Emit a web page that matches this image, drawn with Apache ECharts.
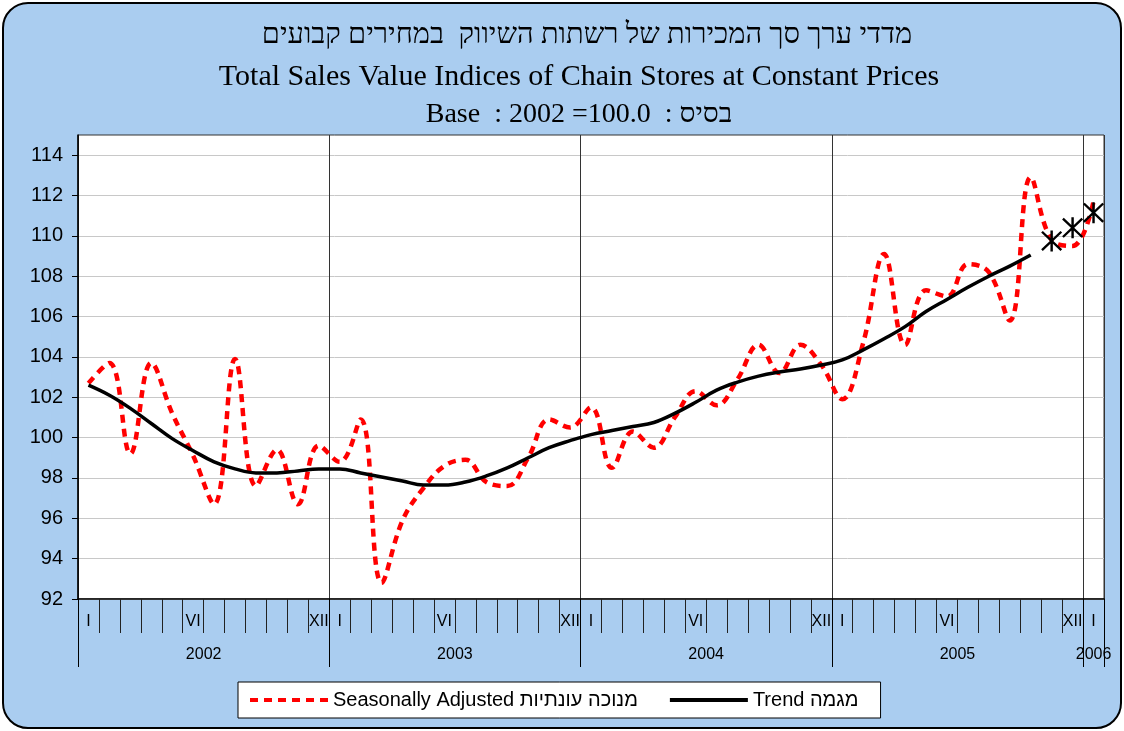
<!DOCTYPE html>
<html>
<head>
<meta charset="utf-8">
<script src="https://cdn.jsdelivr.net/npm/echarts@6/dist/echarts.min.js"></script>
<style>
  html, body { margin: 0; padding: 0; background: #fff; }
  #frame { position: absolute; left: 2px; top: 2px; width: 1116px; height: 723px;
           background: #AACDF0; border: 2px solid #000; border-radius: 26px; }
  #chart { position: absolute; left: 0; top: 0; width: 1124px; height: 731px; }
</style>
</head>
<body>
<div id="frame"></div>
<div id="chart"></div>
<script>
// ---------- data ----------
const years = ['2002', '2003', '2004', '2005', '2006'];
const romanMonths = ['I','II','III','IV','V','VI','VII','VIII','IX','X','XI','XII'];
const shownMonths = ['I', 'VI', 'XII'];

// Seasonally adjusted index, Jan 2002 .. Jan 2006
const seasonallyAdjusted = [
  102.7, 103.7, 99.2, 103.7, 101.2, 99.1, 96.7, 103.9, 97.6, 99.4, 96.7, 99.6,
  98.8, 100.9, 92.8, 95.9, 97.5, 98.6, 98.9, 97.8, 97.6, 99.0, 100.9, 100.5,
  101.5, 98.5, 100.3, 99.5, 101.0, 102.3, 101.6, 102.9, 104.6, 103.2, 104.6, 103.6,
  101.9, 104.7, 109.1, 104.6, 107.3, 107.0, 108.6, 108.2, 105.8, 112.9, 109.8, 109.5,
  111.7
];
// Trend, Jan 2002 .. Oct 2005
const trend = [
  102.6, 102.1, 101.45, 100.7, 99.95, 99.35, 98.8, 98.45, 98.25, 98.25, 98.35, 98.45,
  98.45, 98.25, 98.05, 97.85, 97.65, 97.65, 97.8, 98.1, 98.5, 99.0, 99.5, 99.85,
  100.15, 100.35, 100.55, 100.75, 101.2, 101.75, 102.35, 102.75, 103.05, 103.25, 103.4, 103.6,
  103.85, 104.35, 104.9, 105.5, 106.25, 106.85, 107.45, 108.0, 108.5, 109.05
];
// Trend estimates (asterisks): Nov 2005, Dec 2005, Jan 2006
const trendEstimateMonths = ['2005-11', '2005-12', '2006-01'];
const trendEstimate = [109.75, 110.4, 111.15];

const yTicks = [92, 94, 96, 98, 100, 102, 104, 106, 108, 110, 112, 114];
const yearLabelPos = [6, 18, 30, 42, 48.5];

const seriesNames = ['Seasonally Adjusted מנוכה עונתיות', 'Trend מגמה'];
const titleLines = [
  'מדדי ערך סך המכירות של רשתות השיווק  במחירים קבועים',
  'Total Sales Value Indices of Chain Stores at Constant Prices',
  'Base  : 2002 =100.0  : בסיס'
];

// ---------- build ----------
const categories = [];
years.forEach(y => romanMonths.forEach((m, i) => {
  if (y !== '2006' || i === 0) categories.push(y + '-' + String(i + 1).padStart(2, '0'));
}));
const estimateData = trendEstimateMonths.map((c, i) => [categories.indexOf(c), trendEstimate[i]]);

const SANS = '"Liberation Sans", Arial, sans-serif';
const SERIF = '"Liberation Serif", "Times New Roman", serif';
const asterisk = 'path://M8.9,0 L11.1,0 L11.1,20 L8.9,20 Z M0.5,2.0 L2.0,0.5 L19.5,18.0 L18.0,19.5 Z M18.0,0.5 L19.5,2.0 L2.0,19.5 L0.5,18.0 Z';

const chart = echarts.init(document.getElementById('chart'), null, { renderer: 'canvas' });
chart.setOption({
  backgroundColor: 'transparent',
  animation: false,
  title: [
    { text: titleLines[0], left: 582, top: 16, textAlign: 'center',
      textStyle: { fontFamily: SERIF, fontSize: 29, fontWeight: 'normal', color: '#000' } },
    { text: titleLines[1], left: 574, top: 57, textAlign: 'center',
      textStyle: { fontFamily: SERIF, fontSize: 30, fontWeight: 'normal', color: '#000' } },
    { text: titleLines[2], left: 574, top: 96, textAlign: 'center',
      textStyle: { fontFamily: SERIF, fontSize: 28, fontWeight: 'normal', color: '#000' } }
  ],
  legend: {
    data: seriesNames,
    left: 238, top: 682,
    itemWidth: 78, itemHeight: 14, itemGap: 30,
    padding: [8, 22, 8, 10],
    backgroundColor: '#fff', borderColor: '#000', borderWidth: 1,
    itemStyle: { opacity: 0 },
    lineStyle: { width: 4 },
    textStyle: { fontFamily: SANS, fontSize: 20, color: '#000' }
  },
  grid: {
    left: 78, top: 135, width: 1026, height: 464,
    show: true, backgroundColor: '#fff', borderColor: '#333', borderWidth: 1
  },
  xAxis: [
    {
      type: 'category', data: categories, boundaryGap: true, position: 'bottom',
      axisLine: { lineStyle: { color: '#000', width: 1.5 } },
      axisTick: { show: true, interval: 0, length: 34, lineStyle: { color: '#222', width: 1 } },
      axisLabel: {
        interval: 0, margin: 15, fontFamily: SANS, fontSize: 16, color: '#000',
        formatter: (v) => {
          const m = romanMonths[parseInt(v.slice(5), 10) - 1];
          return shownMonths.indexOf(m) >= 0 ? m : '';
        }
      },
      splitLine: { show: false }
    },
    {
      type: 'value', min: 0, max: categories.length, interval: 12, position: 'bottom',
      axisLine: { show: false },
      axisTick: { show: true, length: 68, lineStyle: { color: '#000', width: 1 } },
      axisLabel: { show: false },
      splitLine: { show: true, lineStyle: { color: '#333', width: 1 } }
    },
    {
      type: 'value', min: 0, max: categories.length, position: 'bottom',
      axisLine: { show: false }, axisTick: { show: false }, splitLine: { show: false },
      axisLabel: {
        show: true, customValues: yearLabelPos, margin: 48,
        fontFamily: SANS, fontSize: 16, color: '#000',
        formatter: (v) => years[yearLabelPos.indexOf(v)] || ''
      }
    }
  ],
  yAxis: {
    type: 'value', min: 92, max: 115, interval: 2,
    axisLine: { show: true, lineStyle: { color: '#000', width: 1.5 } },
    axisTick: { show: true, length: 6, customValues: yTicks, lineStyle: { color: '#000' } },
    axisLabel: {
      margin: 15, fontFamily: SANS, fontSize: 20, color: '#000', customValues: yTicks,
      formatter: (v) => yTicks.indexOf(v) >= 0 ? String(v) : ''
    },
    splitLine: { show: true, lineStyle: { color: '#C8C8C8', width: 1 } }
  },
  series: [
    {
      name: seriesNames[0], type: 'line', xAxisIndex: 0, data: seasonallyAdjusted,
      smooth: 0.4, symbol: 'none', z: 3,
      itemStyle: { color: '#FF0000' },
      lineStyle: { color: '#FF0000', width: 4.5, type: [8, 6] }
    },
    {
      name: seriesNames[1], type: 'line', xAxisIndex: 0, data: trend,
      smooth: 0.4, symbol: 'none', z: 4,
      itemStyle: { color: '#000' },
      lineStyle: { color: '#000', width: 3.5 }
    },
    {
      name: 'estimate', type: 'scatter', xAxisIndex: 0, data: estimateData,
      symbol: asterisk, symbolSize: 21, z: 5,
      itemStyle: { color: '#000', opacity: 1 }
    }
  ]
});
</script>
</body>
</html>
